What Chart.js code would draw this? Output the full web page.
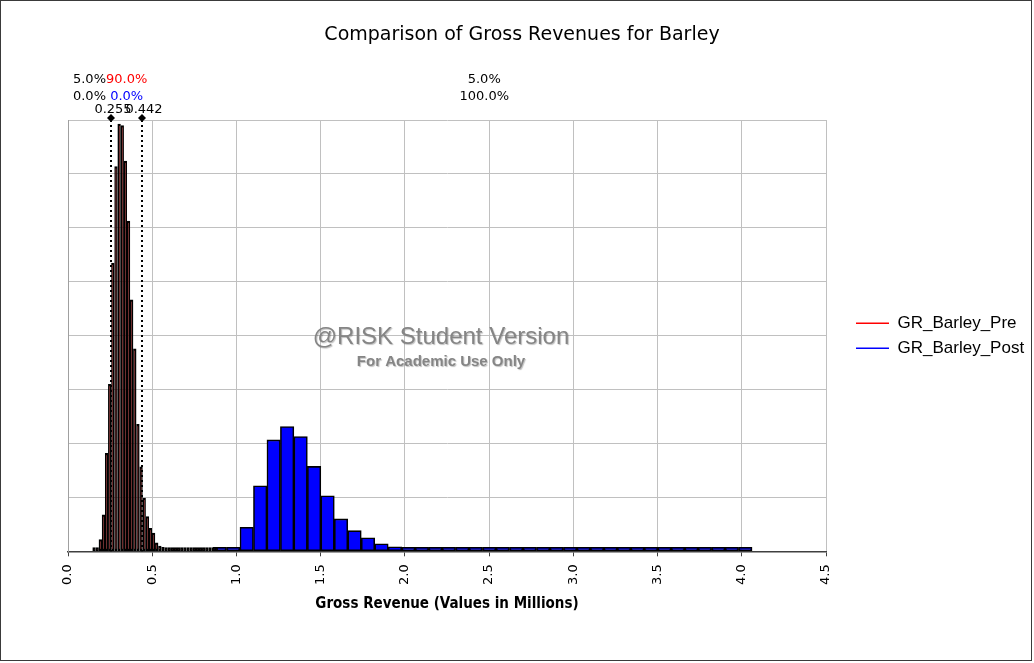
<!DOCTYPE html>
<html>
<head>
<meta charset="utf-8">
<script src="https://cdn.jsdelivr.net/npm/chart.js@4.4.1/dist/chart.umd.min.js"></script>
<style>
  html, body { margin: 0; padding: 0; background: #fff; }
  #grafico { display: block; }
</style>
</head>
<body>
<canvas id="grafico" width="1034" height="663"></canvas>
<script>
var tituloGrafico = 'Comparison of Gross Revenues for Barley';
var tituloEixoX = 'Gross Revenue (Values in Millions)';
var nomesSeries = ['GR_Barley_Pre', 'GR_Barley_Post'];
var coresSeries = ['#ff0000', '#0000ff'];

// histograma "pre": inicio da primeira classe, largura da classe e densidades
var inicioClassesPre = 0.1454;
var larguraClassePre = 0.0186;
var densidadePre = [
  0.01, 0.05, 0.22, 0.68, 1.82, 3.10, 5.35, 7.14, 7.93, 7.90,
  7.24, 6.13, 4.67, 3.76, 2.36, 1.57, 0.99, 0.65, 0.43, 0.34,
  0.16, 0.10, 0.08, 0.06, 0.05, 0.04, 0.04, 0.03, 0.03, 0.02,
  0.02, 0.02, 0.015, 0.01, 0.01, 0.01, 0.01, 0.02, 0.01, 0.01
];

// histograma "post"
var inicioClassesPost = 0.861;
var larguraClassePost = 0.08;
var densidadePost = [
  0.02, 0.065, 0.447, 1.216, 2.067, 2.314, 2.129, 1.575, 1.031, 0.601,
  0.384, 0.25, 0.139, 0.083, 0.06, 0.05, 0.04, 0.035, 0.03, 0.02,
  0.02, 0.015, 0.01, 0.01, 0.01, 0.008, 0.006, 0.005, 0.005, 0.004,
  0.004, 0.003, 0.003, 0.003, 0.002, 0.002, 0.002, 0.002, 0.002, 0.002
];

// limites delimitados (5% / 95%)
var marcadoresX = [0.255, 0.442];
var rotulosMarcadores = ['0.255', '0.442'];
var percentuaisPre = ['5.0%', '90.0%', '5.0%'];
var percentuaisPost = ['0.0%', '0.0%', '100.0%'];

var eixoXMin = 0;
var eixoXMax = 4.5;
var eixoXPasso = 0.5;
var eixoYMax = 8;

function montarClasses(inicio, largura, densidades) {
  return densidades.map((d, i) => ({ x: inicio + (i + 0.5) * largura, y: d }));
}

var pluginMoldura = {
  id: 'moldura',
  beforeDraw(chart) {
    const ctx = chart.ctx;
    ctx.save();
    ctx.strokeStyle = '#3a3a3a';
    ctx.lineWidth = 1;
    ctx.strokeRect(0.5, 0.5, 1031, 660);
    ctx.restore();
  }
};

var pluginMarcaDagua = {
  id: 'marcaDagua',
  beforeDatasetsDraw(chart) {
    const { ctx, chartArea } = chart;
    const cx = (chartArea.left + chartArea.right) / 2 - 6;
    ctx.save();
    ctx.textAlign = 'center';
    ctx.textBaseline = 'middle';
    ctx.shadowColor = 'rgba(0,0,0,0.25)';
    ctx.shadowOffsetX = 1;
    ctx.shadowOffsetY = 1;
    ctx.shadowBlur = 1;
    ctx.fillStyle = '#858585';
    ctx.font = '24px "Liberation Sans", Arial, sans-serif';
    ctx.fillText('@RISK Student Version', cx, 337);
    ctx.font = 'bold 15px "Liberation Sans", Arial, sans-serif';
    ctx.fillText('For Academic Use Only', cx, 362);
    ctx.restore();
  }
};

var pluginMarcadores = {
  id: 'marcadores',
  afterDatasetsDraw(chart) {
    const { ctx, chartArea, scales } = chart;
    ctx.save();
    ctx.font = '13px "DejaVu Sans", Verdana, sans-serif';
    ctx.textAlign = 'center';
    ctx.textBaseline = 'middle';

    marcadoresX.forEach((v, i) => {
      const x = Math.round(scales.x.getPixelForValue(v));
      ctx.setLineDash([2, 3]);
      ctx.lineWidth = 2;
      ctx.strokeStyle = '#000';
      ctx.beginPath();
      ctx.moveTo(x, chartArea.top);
      ctx.lineTo(x, chartArea.bottom);
      ctx.stroke();
      ctx.setLineDash([]);

      const ty = chartArea.top - 2;
      ctx.fillStyle = '#000';
      ctx.beginPath();
      ctx.moveTo(x, ty - 4);
      ctx.lineTo(x + 4, ty);
      ctx.lineTo(x, ty + 4);
      ctx.lineTo(x - 4, ty);
      ctx.closePath();
      ctx.fill();

      ctx.fillText(rotulosMarcadores[i], x + 2, chartArea.top - 10);
    });

    const limites = [eixoXMin].concat(marcadoresX, [eixoXMax]);
    for (let k = 0; k < 3; k++) {
      const xc = (scales.x.getPixelForValue(limites[k]) + scales.x.getPixelForValue(limites[k + 1])) / 2;
      ctx.fillStyle = k === 1 ? coresSeries[0] : '#000';
      ctx.fillText(percentuaisPre[k], xc, 80);
      ctx.fillStyle = k === 1 ? coresSeries[1] : '#000';
      ctx.fillText(percentuaisPost[k], xc, 97);
    }
    ctx.restore();
  }
};

var estiloBarras = {
  borderColor: '#000000',
  borderSkipped: false,
  categoryPercentage: 1,
  barPercentage: 1,
  minBarLength: 4,
  grouped: false
};

new Chart(document.getElementById('grafico'), {
  type: 'bar',
  data: {
    datasets: [
      Object.assign({
        label: nomesSeries[0],
        data: montarClasses(inicioClassesPre, larguraClassePre, densidadePre),
        backgroundColor: coresSeries[0],
        borderWidth: 2,
        inflateAmount: 0.12,
        xAxisID: 'x'
      }, estiloBarras),
      Object.assign({
        label: nomesSeries[1],
        data: montarClasses(inicioClassesPost, larguraClassePost, densidadePost),
        backgroundColor: coresSeries[1],
        borderWidth: 1.6,
        xAxisID: 'x2'
      }, estiloBarras)
    ]
  },
  options: {
    responsive: false,
    animation: false,
    layout: { padding: { left: 10, right: 0, top: 0, bottom: 50 } },
    scales: {
      x: {
        type: 'linear',
        offset: false,
        min: eixoXMin,
        max: eixoXMax,
        grid: { offset: false, color: '#c0c0c0', tickColor: '#404040', tickLength: 5 },
        border: { color: '#404040', width: 1.5 },
        ticks: {
          stepSize: eixoXPasso,
          minRotation: 90,
          maxRotation: 90,
          padding: 8,
          color: '#000',
          font: { family: '"DejaVu Sans", Verdana, sans-serif', size: 13 },
          callback: v => v.toFixed(1)
        },
        title: {
          display: true,
          text: tituloEixoX,
          color: '#000',
          padding: { top: 2, bottom: 0 },
          font: { family: '"DejaVu Sans Condensed", "DejaVu Sans", sans-serif', size: 15, weight: 'bold' }
        }
      },
      x2: {
        type: 'linear',
        offset: false,
        min: eixoXMin,
        max: eixoXMax,
        display: false
      },
      y: {
        min: 0,
        max: eixoYMax,
        grid: { color: '#c0c0c0', drawTicks: false },
        border: { color: '#a0a0a0' },
        ticks: { display: false, stepSize: 1 },
        afterFit: s => { s.width = 58; }
      },
      espaco: {
        type: 'linear',
        position: 'right',
        grid: { display: false },
        border: { display: false },
        ticks: { display: false },
        afterFit: s => { s.width = 22; }
      }
    },
    plugins: {
      title: {
        display: true,
        text: tituloGrafico,
        color: '#000',
        font: { family: '"DejaVu Sans", Verdana, sans-serif', size: 19, weight: 'normal' },
        padding: { top: 24, bottom: 73.2 }
      },
      legend: {
        position: 'right',
        fullSize: false,
        maxWidth: 186,
        labels: {
          usePointStyle: true,
          pointStyleWidth: 33,
          padding: 8,
          color: '#000',
          font: { family: '"Liberation Sans", Arial, sans-serif', size: 17 },
          generateLabels: () => nomesSeries.map((n, i) => ({
            text: n,
            fillStyle: coresSeries[i],
            strokeStyle: coresSeries[i],
            lineWidth: 1.5,
            pointStyle: 'line',
            hidden: false,
            datasetIndex: i
          }))
        }
      },
      tooltip: { enabled: false }
    }
  },
  plugins: [pluginMoldura, pluginMarcaDagua, pluginMarcadores]
});
</script>
</body>
</html>
